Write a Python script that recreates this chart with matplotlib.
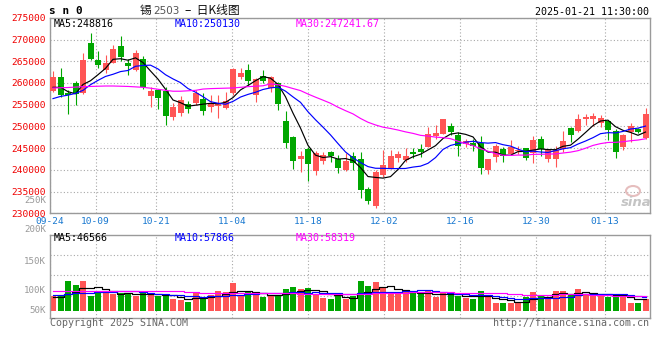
import matplotlib
matplotlib.use('Agg')
import matplotlib.pyplot as plt
import numpy as np
from matplotlib.patches import Ellipse

# ---------------- data ----------------
date_labels = ['09-24', '10-09', '10-21', '11-04', '11-18', '12-02', '12-16', '12-30', '01-13']
date_idx = [0, 6, 14, 24, 34, 44, 54, 64, 73]

open_ = [258090, 261310, 257700, 259900, 257700, 269100, 265200, 262900, 264700, 268500,
         264500, 262900, 265500, 256900, 258300, 258100, 252200, 253100, 255100, 255400,
         256400, 254500, 254700, 254300, 257700, 261400, 262900, 257200, 261500, 258800,
         259900, 251200, 247500, 242400, 244900, 239700, 242000, 244100, 242600, 239900,
         243200, 242600, 235500, 231700, 238900, 240300, 242700, 242200, 244200, 244700,
         245300, 247900, 248300, 250000, 248100, 245900, 246200, 246200, 239900, 243000,
         244900, 243700, 244300, 245000, 243900, 247000, 242600, 242600, 244900, 249700,
         248900, 251600, 251800, 250800, 251200, 248900, 245300, 248600, 249300, 247300]
high_ = [262700, 263550, 258320, 260500, 266800, 271500, 267300, 266500, 268800, 270800,
         265600, 267600, 266200, 259100, 258700, 259100, 255300, 256900, 255800, 258300,
         257800, 257200, 257200, 257900, 263500, 263500, 264300, 261200, 262900, 261500,
         260200, 253500, 247700, 244300, 245200, 244300, 244100, 244400, 243500, 243900,
         244100, 244100, 236000, 239900, 244500, 244500, 244300, 245100, 245100, 246000,
         249900, 250300, 251800, 250800, 248700, 247200, 247000, 247700, 242600, 246000,
         245300, 246800, 245600, 245100, 247800, 247700, 244700, 245600, 248900, 249800,
         252800, 252800, 253200, 252600, 251300, 249500, 248200, 250800, 249600, 254200]
low_ = [258000, 256700, 252790, 254900, 257400, 265400, 263500, 262200, 264500, 265000,
        261900, 262800, 258600, 254500, 254100, 250400, 251400, 252300, 253200, 254900,
        252700, 253300, 252000, 254100, 257200, 261000, 259500, 255600, 259900, 257900,
        253700, 245000, 240100, 239400, 237400, 238900, 241300, 241800, 239300, 239700,
        239900, 233500, 232100, 231200, 238300, 240100, 241800, 241800, 242700, 242900,
        245200, 247200, 248200, 248000, 243200, 245300, 244300, 239000, 239000, 241800,
        241800, 243600, 243700, 242200, 241600, 243300, 241800, 240600, 244100, 246300,
        248800, 250300, 250000, 249800, 246800, 242700, 244500, 246400, 248500, 247200]
close_ = [261310, 257170, 257200, 257400, 265200, 265600, 264100, 264500, 267800, 265900,
          263900, 266800, 259100, 258100, 256500, 252300, 254400, 256000, 254100, 257600,
          253500, 255400, 255400, 255800, 263100, 262300, 260500, 260900, 260500, 261300,
          255200, 246200, 242100, 243300, 241400, 243900, 243500, 243100, 240500, 242000,
          241600, 235400, 232800, 239500, 241200, 243300, 243600, 243300, 243700, 244100,
          248200, 248500, 251600, 248700, 245500, 246600, 245500, 240400, 242400, 245400,
          243300, 245300, 244600, 242700, 246800, 244700, 244500, 244500, 246600, 248100,
          251600, 252200, 252400, 251900, 249100, 244100, 248000, 250000, 248600, 252800]

# volume in thousands of lots
volume_k = [59.0, 61.5, 119.8, 103.7, 119.8, 60.3, 78.8, 71.6, 67.5, 70.4,
            70.4, 60.3, 76.4, 67.5, 60.3, 60.3, 47.4, 43.4, 35.0, 71.6,
            58.3, 64.3, 80.4, 75.6, 111.8, 61.5, 74.4, 65.5, 55.5, 62.3,
            61.5, 87.2, 95.7, 87.6, 91.3, 69.1, 51.5, 47.0, 59.5, 47.0,
            61.5, 119.8, 99.7, 115.4, 93.3, 70.4, 67.5, 75.2, 73.2, 67.5,
            79.6, 55.5, 70.4, 67.5, 59.5, 53.5, 47.4, 79.6, 57.1, 31.4,
            31.4, 31.4, 37.0, 58.3, 75.6, 63.5, 55.5, 80.4, 80.4, 63.5,
            87.6, 63.5, 63.5, 67.1, 57.1, 67.1, 58.3, 31.4, 31.4, 47.0]

ma5_head = [259000, 259000, 258000, 257500]
ma10_head = [256400, 256900, 257200, 257600, 258300, 259600, 260600, 261500, 262000]
ma30_head = [258850, 258900, 258950, 259050, 259150, 259200, 259250, 259300, 259300, 259250,
             259200, 259100, 259000, 258800, 258550, 258300, 258100, 258100, 258200, 258300,
             258600, 258700, 258750, 258800, 258850, 259000, 259150, 259250, 259350]
vma5_head = [55.0, 57.6, 67.0, 77.6]
vma10_head = [64.0, 64.0, 68.0, 71.0, 71.0, 74.0, 78.0, 78.0, 78.0]
vma30_head = [80.0, 80.0, 80.0, 80.0, 80.0, 80.0, 80.0, 80.0, 80.0, 80.0,
              80.0, 80.0, 80.0, 80.0, 80.0, 80.0, 80.0, 80.0, 78.0, 76.0,
              74.0, 73.5, 73.0, 72.5, 72.0, 71.5, 71.0, 71.0, 70.5]

price_ticks = [230000, 235000, 240000, 245000, 250000, 255000, 260000, 265000, 270000, 275000]
ma_price_text = ['MA5:248816', 'MA10:250130', 'MA30:247241.67']
ma_vol_text = ['MA5:46566', 'MA10:57866', 'MA30:58319']
vol_labels = ['250K', '200K', '150K', '100K', '50K']

# ---------------- style ----------------
W, H = 660, 360
UP = '#FF5555'
DOWN = '#00A600'
GRID = '#A8A8A8'
FRAME = '#9A9A9A'
MA_COLORS = ['#000000', '#0000FF', '#FF00FF']
MONO = 'DejaVu Sans Mono'
CJK = ['Noto Sans CJK SC', 'DejaVu Sans']
plt.rcParams['font.family'] = [MONO]

fig = plt.figure(figsize=(W / 100, H / 100), dpi=100)
fig.patch.set_facecolor('white')


def rect(l, t, r, b):
    return [l / W, 1 - b / H, (r - l) / W, (b - t) / H]


def ptext(x, y, s, **kw):
    kw.setdefault('va', 'center')
    fig.text(x / W, 1 - y / H, s, **kw)


def rolling(arr, n, head):
    arr = np.asarray(arr, dtype=float)
    out = np.empty(len(arr))
    out[:n - 1] = head
    for i in range(n - 1, len(arr)):
        out[i] = arr[i - n + 1:i + 1].mean()
    return out


n = len(close_)
xc = np.arange(n) + 0.4
o = np.array(open_, float)
c = np.array(close_, float)
hi = np.array(high_, float)
lo = np.array(low_, float)
up = c >= o
cols = [UP if u else DOWN for u in up]

grid_step = 7.6 / 7.5  # Sina's date gridlines drift slightly from the candle slots
tick_x = [i * grid_step for i in date_idx]

# ---------------- price panel ----------------
ax = fig.add_axes(rect(50, 17.8, 650, 213.3))
ax.set_xlim(0, n)
ax.set_ylim(230000, 275000)
ax.vlines(xc, lo, hi, colors=cols, linewidth=0.8, zorder=2)
body = np.maximum(np.abs(c - o), 250)
ax.bar(xc, body, bottom=np.minimum(o, c), width=0.8, color=cols, linewidth=0, zorder=3)

for vals, win, head, col in [(c, 5, ma5_head, MA_COLORS[0]), (c, 10, ma10_head, MA_COLORS[1]),
                             (c, 30, ma30_head, MA_COLORS[2])]:
    ax.plot(xc, rolling(vals, win, head), color=col, linewidth=0.85, zorder=4)

ax.set_yticks(price_ticks)
ax.set_yticklabels([str(t) for t in price_ticks])
ax.set_xticks(tick_x)
ax.set_xticklabels(date_labels)
ax.tick_params(axis='y', length=0, pad=3, labelsize=6.8, labelcolor='#F00000')
ax.tick_params(axis='x', length=0, pad=2.6, labelsize=6.8, labelcolor='#1878D0')
ax.grid(True, color=GRID, linestyle=(0, (1, 2)), linewidth=0.8)
ax.set_axisbelow(True)
for s in ax.spines.values():
    s.set_color(FRAME)
    s.set_linewidth(1.0)

# ---------------- volume panel ----------------
axv = fig.add_axes(rect(50, 234.7, 650, 317.5))
axv.set_xlim(0, n)
vol = np.array(volume_k)
axv.set_ylim(-26.1, 306.7)
axv.bar(xc, vol, width=0.8, color=cols, linewidth=0, zorder=2)
for win, head, col in [(5, vma5_head, MA_COLORS[0]), (10, vma10_head, MA_COLORS[1]),
                       (30, vma30_head, MA_COLORS[2])]:
    axv.plot(xc, rolling(vol, win, head), color=col, linewidth=0.85, drawstyle='steps-mid', zorder=3)
axv.set_xticks(tick_x)
axv.set_xticklabels([])
axv.set_yticks([61.5, 143.5, 225.1])
axv.set_yticklabels([])
axv.tick_params(length=0)
axv.grid(True, color=GRID, linestyle=(0, (1, 2)), linewidth=0.8)
axv.set_axisbelow(True)
for s in axv.spines.values():
    s.set_color(FRAME)
    s.set_linewidth(1.0)

# volume axis labels (placed as Sina draws them)
for lab, y in zip(vol_labels, [200.9, 230.0, 261.0, 290.3, 310.3]):
    ptext(46, y, lab, ha='right', color='#999999', fontsize=6.6, family=MONO)

# ---------------- texts ----------------
ptext(49, 11.5, 's n 0', ha='left', color='#000000', fontsize=8, fontweight='bold', family=MONO)
ptext(140, 10.5, '锡', ha='left', color='#111111', fontsize=8.5, family=CJK)
ptext(153.5, 11.0, '2503', ha='left', color='#555555', fontsize=7.5, family=['DejaVu Sans'])
ptext(185, 10.5, '–  日K线图', ha='left', color='#111111', fontsize=8.5, family=CJK)
ptext(649, 11.7, '2025-01-21 11:30:00', ha='right', color='#000000', fontsize=7.2, family=MONO)

for s, xpos, col in zip(ma_price_text, [54, 175, 296], MA_COLORS):
    ptext(xpos, 24.0, s, ha='left', color=col, fontsize=7.2, family=MONO)
for s, xpos, col in zip(ma_vol_text, [54, 175, 296], MA_COLORS):
    ptext(xpos, 238.2, s, ha='left', color=col, fontsize=7.2, family=MONO)

ptext(50, 323.2, 'Copyright 2025 SINA.COM', ha='left', color='#666666', fontsize=7.2, family=MONO)
ptext(649, 323.2, 'http://finance.sina.com.cn', ha='right', color='#666666', fontsize=7.2, family=MONO)

# sina watermark
fig.add_artist(Ellipse((633 / W, 1 - 191 / H), 14 / W, 10 / H, fill=False,
                       edgecolor='#E6BEBE', linewidth=1.5))
ptext(636, 202.5, 'sina', ha='center', color='#C4C4C4', fontsize=9.5,
      fontweight='bold', style='italic', family=['DejaVu Sans'])

fig.savefig('out.png', dpi=100, facecolor='white')
